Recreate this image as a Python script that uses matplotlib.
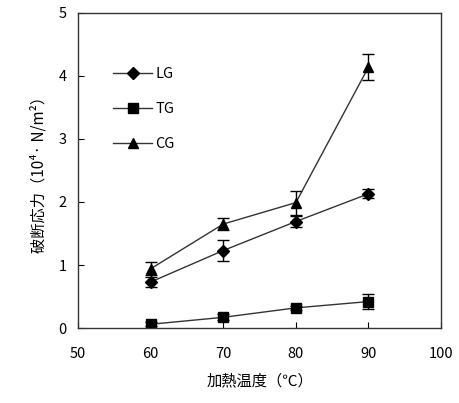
import matplotlib
matplotlib.use("Agg")
import matplotlib.pyplot as plt

plt.rcParams['font.family'] = ['Noto Sans CJK JP', 'DejaVu Sans']

# Data
temps = [60, 70, 80, 90]
lg = [0.73, 1.23, 1.69, 2.13]
lg_err = [0.08, 0.17, 0.09, 0.07]
tg = [0.06, 0.17, 0.32, 0.42]
tg_err = [0.03, 0.05, 0.03, 0.12]
cg = [0.94, 1.65, 1.99, 4.14]
cg_err = [0.10, 0.09, 0.19, 0.20]

series = [
    ("LG", lg, lg_err, "D", 6),
    ("TG", tg, tg_err, "s", 7.5),
    ("CG", cg, cg_err, "^", 7.5),
]

fig = plt.figure(figsize=(4.59, 4.03), dpi=100)
ax = fig.add_axes([0.170, 0.186, 0.791, 0.782])

handles = []
for name, vals, errs, mk, ms in series:
    eb = ax.errorbar(temps, vals, yerr=errs, color="#333333", lw=1.0,
                     marker=mk, ms=ms, mfc="black", mec="black",
                     ecolor="black", elinewidth=1.0, capsize=4, capthick=1.0,
                     label=name)
    handles.append(eb[0])

ax.set_xlim(50, 100)
ax.set_ylim(0, 5)
ax.set_xticks([50, 60, 70, 80, 90, 100])
ax.set_yticks([0, 1, 2, 3, 4, 5])
ax.tick_params(direction="in", length=4, labelsize=10.5, pad=8)
ax.tick_params(axis="x", pad=14)
for s in ax.spines.values():
    s.set_linewidth(1.0)
    s.set_color("#333333")

ax.set_xlabel("加熱温度（℃）", fontsize=11, labelpad=8)
ax.set_ylabel("破断応力（10⁴· N/m²）", fontsize=11, labelpad=8)

ax.legend(handles, [s[0] for s in series], loc="upper left",
          bbox_to_anchor=(0.06, 0.87), frameon=False,
          fontsize=10.5, labelspacing=1.45, handlelength=2.7,
          handletextpad=0.2)

fig.savefig("out.png", dpi=100)
